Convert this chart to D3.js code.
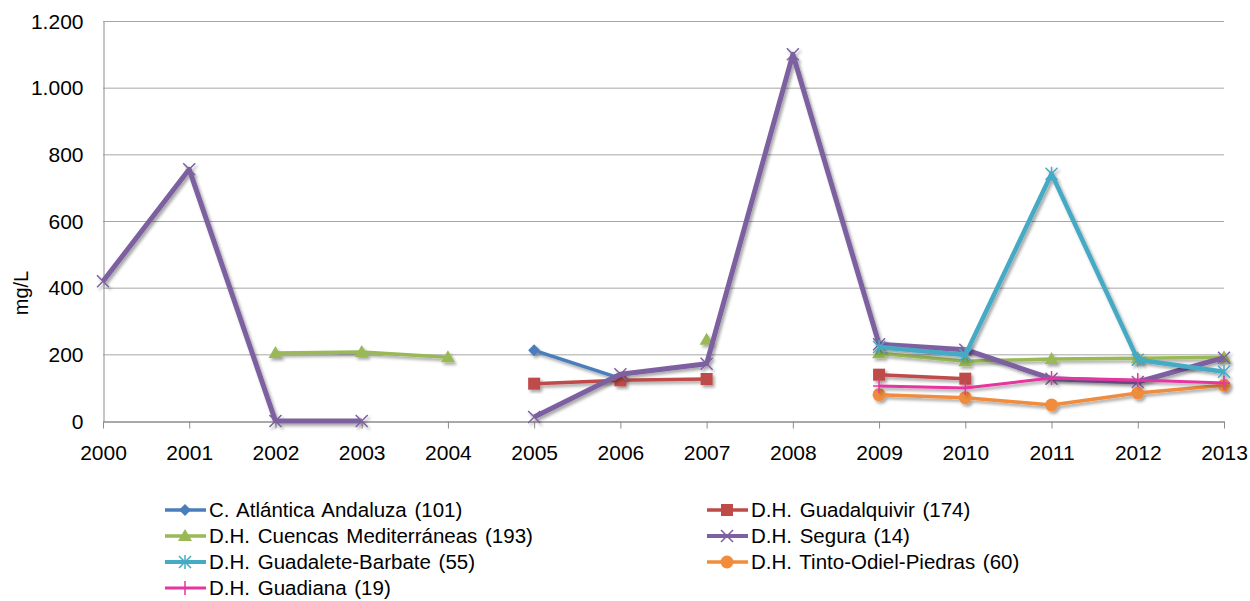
<!DOCTYPE html>
<html>
<head>
<meta charset="utf-8">
<script src="https://cdn.jsdelivr.net/npm/d3@7/dist/d3.min.js"></script>
<style>
  body{margin:0;background:#fff;}
  text{font-family:"Liberation Sans",Arial,sans-serif;fill:#000;}
</style>
</head>
<body>
<svg id="chart" width="1250" height="601"></svg>
<script>
// data (mg/L), null = no value that year
var years=["2000","2001","2002","2003","2004","2005","2006","2007","2008","2009","2010","2011","2012","2013"];
var atlantica=[null,null,null,null,null,212,128,null,null,null,null,null,null,null];
var guadalquivir=[null,null,null,null,null,112,122,126,null,139,127,null,null,null];
var mediterraneas=[null,null,204,207,191,null,null,244,null,203,179,186,188,191];
var segura=[419,755,0,0,null,12,140,172,1100,230,214,127,117,190];
var guadalete=[null,null,null,null,null,null,null,null,null,222,198,742,184,148];
var tinto=[null,null,null,null,null,null,null,null,null,79,70,48,84,107];
var guadiana=[null,null,null,null,null,null,null,null,null,105,99,129,123,114];

var seriesNames=["C. Atlántica Andaluza (101)","D.H. Guadalquivir (174)","D.H. Cuencas Mediterráneas (193)","D.H. Segura (14)","D.H. Guadalete-Barbate (55)","D.H. Tinto-Odiel-Piedras (60)","D.H. Guadiana (19)"];
var seriesValues=[atlantica,guadalquivir,mediterraneas,segura,guadalete,tinto,guadiana];
var yTicks=[0,200,400,600,800,1000,1200];

var colors=["#4A7EBB","#BE4B48","#98B954","#7D60A0","#46AAC5","#F08C3C","#E6369E"];
var markers=["diamond","square","triangle","x","star","circle","plus"];
var widths=[3.5,3.5,3.5,5,4.5,3.5,3];

var svg=d3.select("#chart");
var plotLeft=103,plotRight=1224,plotTop=21,plotBottom=421;

var x=d3.scalePoint().domain(years).range([plotLeft,plotRight]);
var y=d3.scaleLinear().domain([0,1200]).range([plotBottom,plotTop]);

var defs=svg.append("defs");
var f=defs.append("filter").attr("id","shadow").attr("x","-10%").attr("y","-10%").attr("width","130%").attr("height","130%");
f.append("feDropShadow").attr("dx",2).attr("dy",2.5).attr("stdDeviation",1.6).attr("flood-color","#000").attr("flood-opacity",0.35);

// grid
svg.append("g").selectAll("line").data(yTicks.slice(1)).enter().append("line")
  .attr("x1",plotLeft).attr("x2",plotRight).attr("y1",function(d){return y(d)+0.5;}).attr("y2",function(d){return y(d)+0.5;})
  .attr("stroke","#A6A6A6").attr("stroke-width",1);

// y axis
var yAxis=svg.append("g").attr("transform","translate("+(plotLeft+0.5)+",0.5)")
  .call(d3.axisLeft(y).tickValues(yTicks).tickSize(0).tickPadding(20)
    .tickFormat(function(d){return d3.format(",")(d).replace(",",".");}));
yAxis.select(".domain").attr("stroke","#8C8C8C");
yAxis.selectAll("text").attr("font-size",21).attr("font-family","Liberation Sans, Arial, sans-serif").attr("fill","#000");

// x axis
var xAxis=svg.append("g").attr("transform","translate(0,"+(plotBottom+0.5)+")")
  .call(d3.axisBottom(x).tickSizeInner(7).tickSizeOuter(0).tickPadding(17));
xAxis.select(".domain").attr("stroke","#8C8C8C").attr("stroke-width",1.5);
xAxis.selectAll("line").attr("stroke","#8C8C8C");
xAxis.selectAll("text").attr("font-size",21).attr("font-family","Liberation Sans, Arial, sans-serif").attr("fill","#000");

svg.append("text").attr("transform","translate(21,"+((plotTop+plotBottom)/2+72)+") rotate(-90)")
  .attr("text-anchor","middle").attr("dy","0.35em").attr("font-size",20).text("mg/L");

function drawMarker(g,type,cx,cy,col){
  var s=6;
  if(type=="diamond"){
    g.append("path").attr("d","M"+cx+","+(cy-s)+"L"+(cx+s)+","+cy+"L"+cx+","+(cy+s)+"L"+(cx-s)+","+cy+"Z").attr("fill",col);
  } else if(type=="square"){
    g.append("rect").attr("x",cx-s).attr("y",cy-s).attr("width",2*s).attr("height",2*s).attr("fill",col);
  } else if(type=="triangle"){
    g.append("path").attr("d","M"+cx+","+(cy-s-1)+"L"+(cx+s+1)+","+(cy+s-1)+"L"+(cx-s-1)+","+(cy+s-1)+"Z").attr("fill",col);
  } else if(type=="circle"){
    g.append("circle").attr("cx",cx).attr("cy",cy).attr("r",s+0.5).attr("fill",col);
  } else if(type=="x"){
    g.append("path").attr("d","M"+(cx-s)+","+(cy-s)+"L"+(cx+s)+","+(cy+s)+"M"+(cx-s)+","+(cy+s)+"L"+(cx+s)+","+(cy-s)).attr("stroke",col).attr("stroke-width",1.5);
  } else if(type=="star"){
    g.append("path").attr("d","M"+(cx-s)+","+(cy-s)+"L"+(cx+s)+","+(cy+s)+"M"+(cx-s)+","+(cy+s)+"L"+(cx+s)+","+(cy-s)+"M"+cx+","+(cy-s-1)+"L"+cx+","+(cy+s+1)).attr("stroke",col).attr("stroke-width",1.5);
  } else if(type=="plus"){
    g.append("path").attr("d","M"+cx+","+(cy-s-1)+"L"+cx+","+(cy+s+1)+"M"+(cx-s)+","+cy+"L"+(cx+s)+","+cy).attr("stroke",col).attr("stroke-width",1.5);
  }
}

var line=d3.line().defined(function(d){return d.v!=null;}).x(function(d){return x(d.year);}).y(function(d){return y(d.v);});

seriesValues.forEach(function(vals,i){
  var pts=years.map(function(yr,j){return {year:yr,v:vals[j]};});
  var g=svg.append("g").attr("filter","url(#shadow)");
  g.append("path").datum(pts).attr("d",line).attr("fill","none")
    .attr("stroke",colors[i]).attr("stroke-width",widths[i]).attr("stroke-linejoin","round");
  pts.forEach(function(p){
    if(p.v!=null) drawMarker(g,markers[i],x(p.year),y(p.v),colors[i]);
  });
});

// legend
var legRows=[510,536,562,588];
seriesNames.forEach(function(name,i){
  var col=i%2, row=Math.floor(i/2);
  var lx=col==0?165:707, ly=legRows[row];
  var g=svg.append("g");
  g.append("line").attr("x1",lx).attr("x2",lx+41).attr("y1",ly).attr("y2",ly).attr("stroke",colors[i]).attr("stroke-width",Math.min(widths[i],4));
  drawMarker(g,markers[i],lx+20,ly,colors[i]);
  g.append("text").attr("x",lx+44).attr("y",ly).attr("dy","0.36em").attr("font-size",20.5).attr("word-spacing",2).text(name);
});
</script>
</body>
</html>
